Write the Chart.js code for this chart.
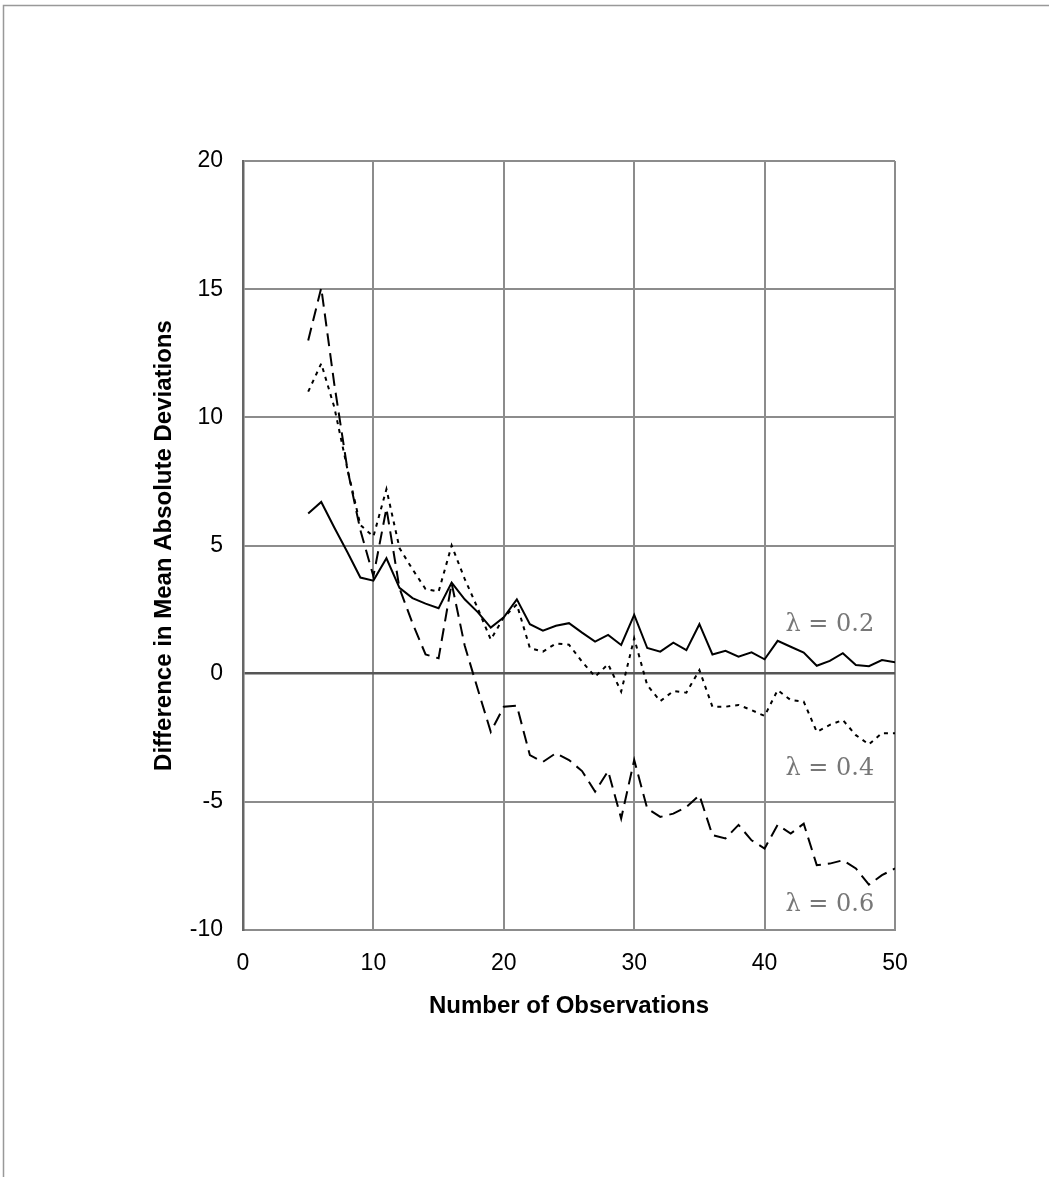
<!DOCTYPE html>
<html>
<head>
<meta charset="utf-8">
<script src="https://cdn.jsdelivr.net/npm/chart.js@4.4.1/dist/chart.umd.min.js"></script>
<style>
  html, body { margin: 0; padding: 0; background: #fff; }
  canvas { display: block; }
</style>
</head>
<body>
<canvas id="chart" width="1049" height="1177"></canvas>
<script>
// Number of observations
const observations = [5, 6, 7, 8, 9, 10, 11, 12, 13, 14, 15, 16, 17, 18, 19, 20,
  21, 22, 23, 24, 25, 26, 27, 28, 29, 30, 31, 32, 33, 34, 35, 36, 37, 38, 39, 40,
  41, 42, 43, 44, 45, 46, 47, 48, 49, 50];

// lambda = 0.2 (solid)
const lambda02 = [6.25, 6.7, 5.7, 4.75, 3.75, 3.63, 4.5, 3.35, 2.95, 2.73, 2.55, 3.55,
  2.9, 2.4, 1.8, 2.2, 2.9, 1.93, 1.68, 1.87, 1.97, 1.6, 1.25, 1.51, 1.12, 2.29,
  1.0, 0.86, 1.21, 0.92, 1.93, 0.75, 0.89, 0.66, 0.83, 0.56, 1.28, 1.05, 0.82,
  0.31, 0.5, 0.8, 0.34, 0.29, 0.53, 0.44];

// lambda = 0.4 (dotted)
const lambda04 = [11.0, 12.1, 10.4, 8.0, 5.8, 5.35, 7.2, 4.9, 4.07, 3.3, 3.2, 5.0,
  3.7, 2.55, 1.33, 2.2, 2.7, 1.0, 0.86, 1.18, 1.13, 0.47, -0.12, 0.37, -0.7, 1.38,
  -0.45, -1.07, -0.68, -0.74, 0.14, -1.29, -1.29, -1.22, -1.42, -1.65, -0.64,
  -1.03, -1.09, -2.27, -2.0, -1.81, -2.4, -2.76, -2.32, -2.32];

// lambda = 0.6 (dashed)
const lambda06 = [13.0, 15.05, 11.3, 8.0, 5.6, 3.8, 6.45, 3.33, 1.97, 0.75, 0.6, 3.53,
  1.1, -0.6, -2.27, -1.29, -1.25, -3.18, -3.44, -3.1, -3.37, -3.8, -4.6, -3.8,
  -5.65, -3.37, -5.26, -5.59, -5.46, -5.2, -4.74, -6.3, -6.43, -5.9, -6.5, -6.82,
  -5.9, -6.24, -5.85, -7.47, -7.41, -7.28, -7.6, -8.23, -7.86, -7.6];

// Curve labels and where they sit (data units)
const curveLabels = ['\u03bb = 0.2', '\u03bb = 0.4', '\u03bb = 0.6'];
const curveLabelX = [45.0, 45.0, 45.0];
const curveLabelY = [1.9, -3.7, -9.0];

const toPoints = ys => observations.map((x, i) => ({ x, y: ys[i] }));

const axisFont = { family: "'Liberation Sans', Arial, sans-serif", size: 23 };
const titleFont = { family: "'Liberation Sans', Arial, sans-serif", size: 24, weight: 'bold' };

// white page with the thin grey frame on top / left
const framePlugin = {
  id: 'frame',
  beforeDraw(chart) {
    const { ctx, width, height } = chart;
    ctx.save();
    ctx.fillStyle = '#fff';
    ctx.fillRect(0, 0, width, height);
    ctx.strokeStyle = '#999';
    ctx.lineWidth = 1.5;
    ctx.beginPath();
    ctx.moveTo(3.5, height);
    ctx.lineTo(3.5, 5.5);
    ctx.lineTo(width, 5.5);
    ctx.stroke();
    ctx.restore();
  }
};

const labelPlugin = {
  id: 'curveLabels',
  afterDatasetsDraw(chart) {
    const { ctx, scales } = chart;
    ctx.save();
    ctx.font = "24px 'DejaVu Serif', serif";
    ctx.fillStyle = '#777';
    ctx.textAlign = 'center';
    ctx.textBaseline = 'middle';
    curveLabels.forEach((t, i) => {
      ctx.fillText(t, scales.x.getPixelForValue(curveLabelX[i]), scales.y.getPixelForValue(curveLabelY[i]));
    });
    ctx.restore();
  }
};

new Chart(document.getElementById('chart'), {
  type: 'line',
  data: {
    datasets: [
      { label: '\u03bb = 0.2', data: toPoints(lambda02), borderColor: '#000', borderWidth: 2 },
      { label: '\u03bb = 0.4', data: toPoints(lambda04), borderColor: '#000', borderWidth: 2, borderDash: [4, 5] },
      { label: '\u03bb = 0.6', data: toPoints(lambda06), borderColor: '#000', borderWidth: 2, borderDash: [13, 7] }
    ]
  },
  options: {
    responsive: false,
    animation: false,
    devicePixelRatio: 1,
    elements: { point: { radius: 0 }, line: { tension: 0 } },
    layout: { padding: { left: 146, right: 154, top: 161, bottom: 152 } },
    plugins: { legend: { display: false }, tooltip: { enabled: false } },
    scales: {
      x: {
        type: 'linear',
        min: 0,
        max: 50,
        afterFit: s => { s.height = 95; },
        ticks: { stepSize: 10, color: '#000', font: axisFont, padding: 20, maxRotation: 0 },
        grid: { color: '#8c8c8c', lineWidth: 2, drawTicks: false },
        border: { color: '#8c8c8c', width: 2 },
        title: { display: true, text: 'Number of Observations', color: '#000', font: titleFont, padding: 4 }
      },
      y: {
        min: -10,
        max: 20,
        afterFit: s => { s.width = 97; },
        ticks: { stepSize: 5, color: '#000', font: axisFont, padding: 20 },
        grid: {
          color: c => (c.tick && c.tick.value === 0 ? '#555' : '#8c8c8c'),
          lineWidth: c => (c.tick && c.tick.value === 0 ? 2.5 : 2),
          drawTicks: false
        },
        border: { color: '#666', width: 2.5 },
        title: { display: true, text: 'Difference in Mean Absolute Deviations', color: '#000', font: titleFont, padding: 4 }
      }
    }
  },
  plugins: [framePlugin, labelPlugin]
});
</script>
</body>
</html>
